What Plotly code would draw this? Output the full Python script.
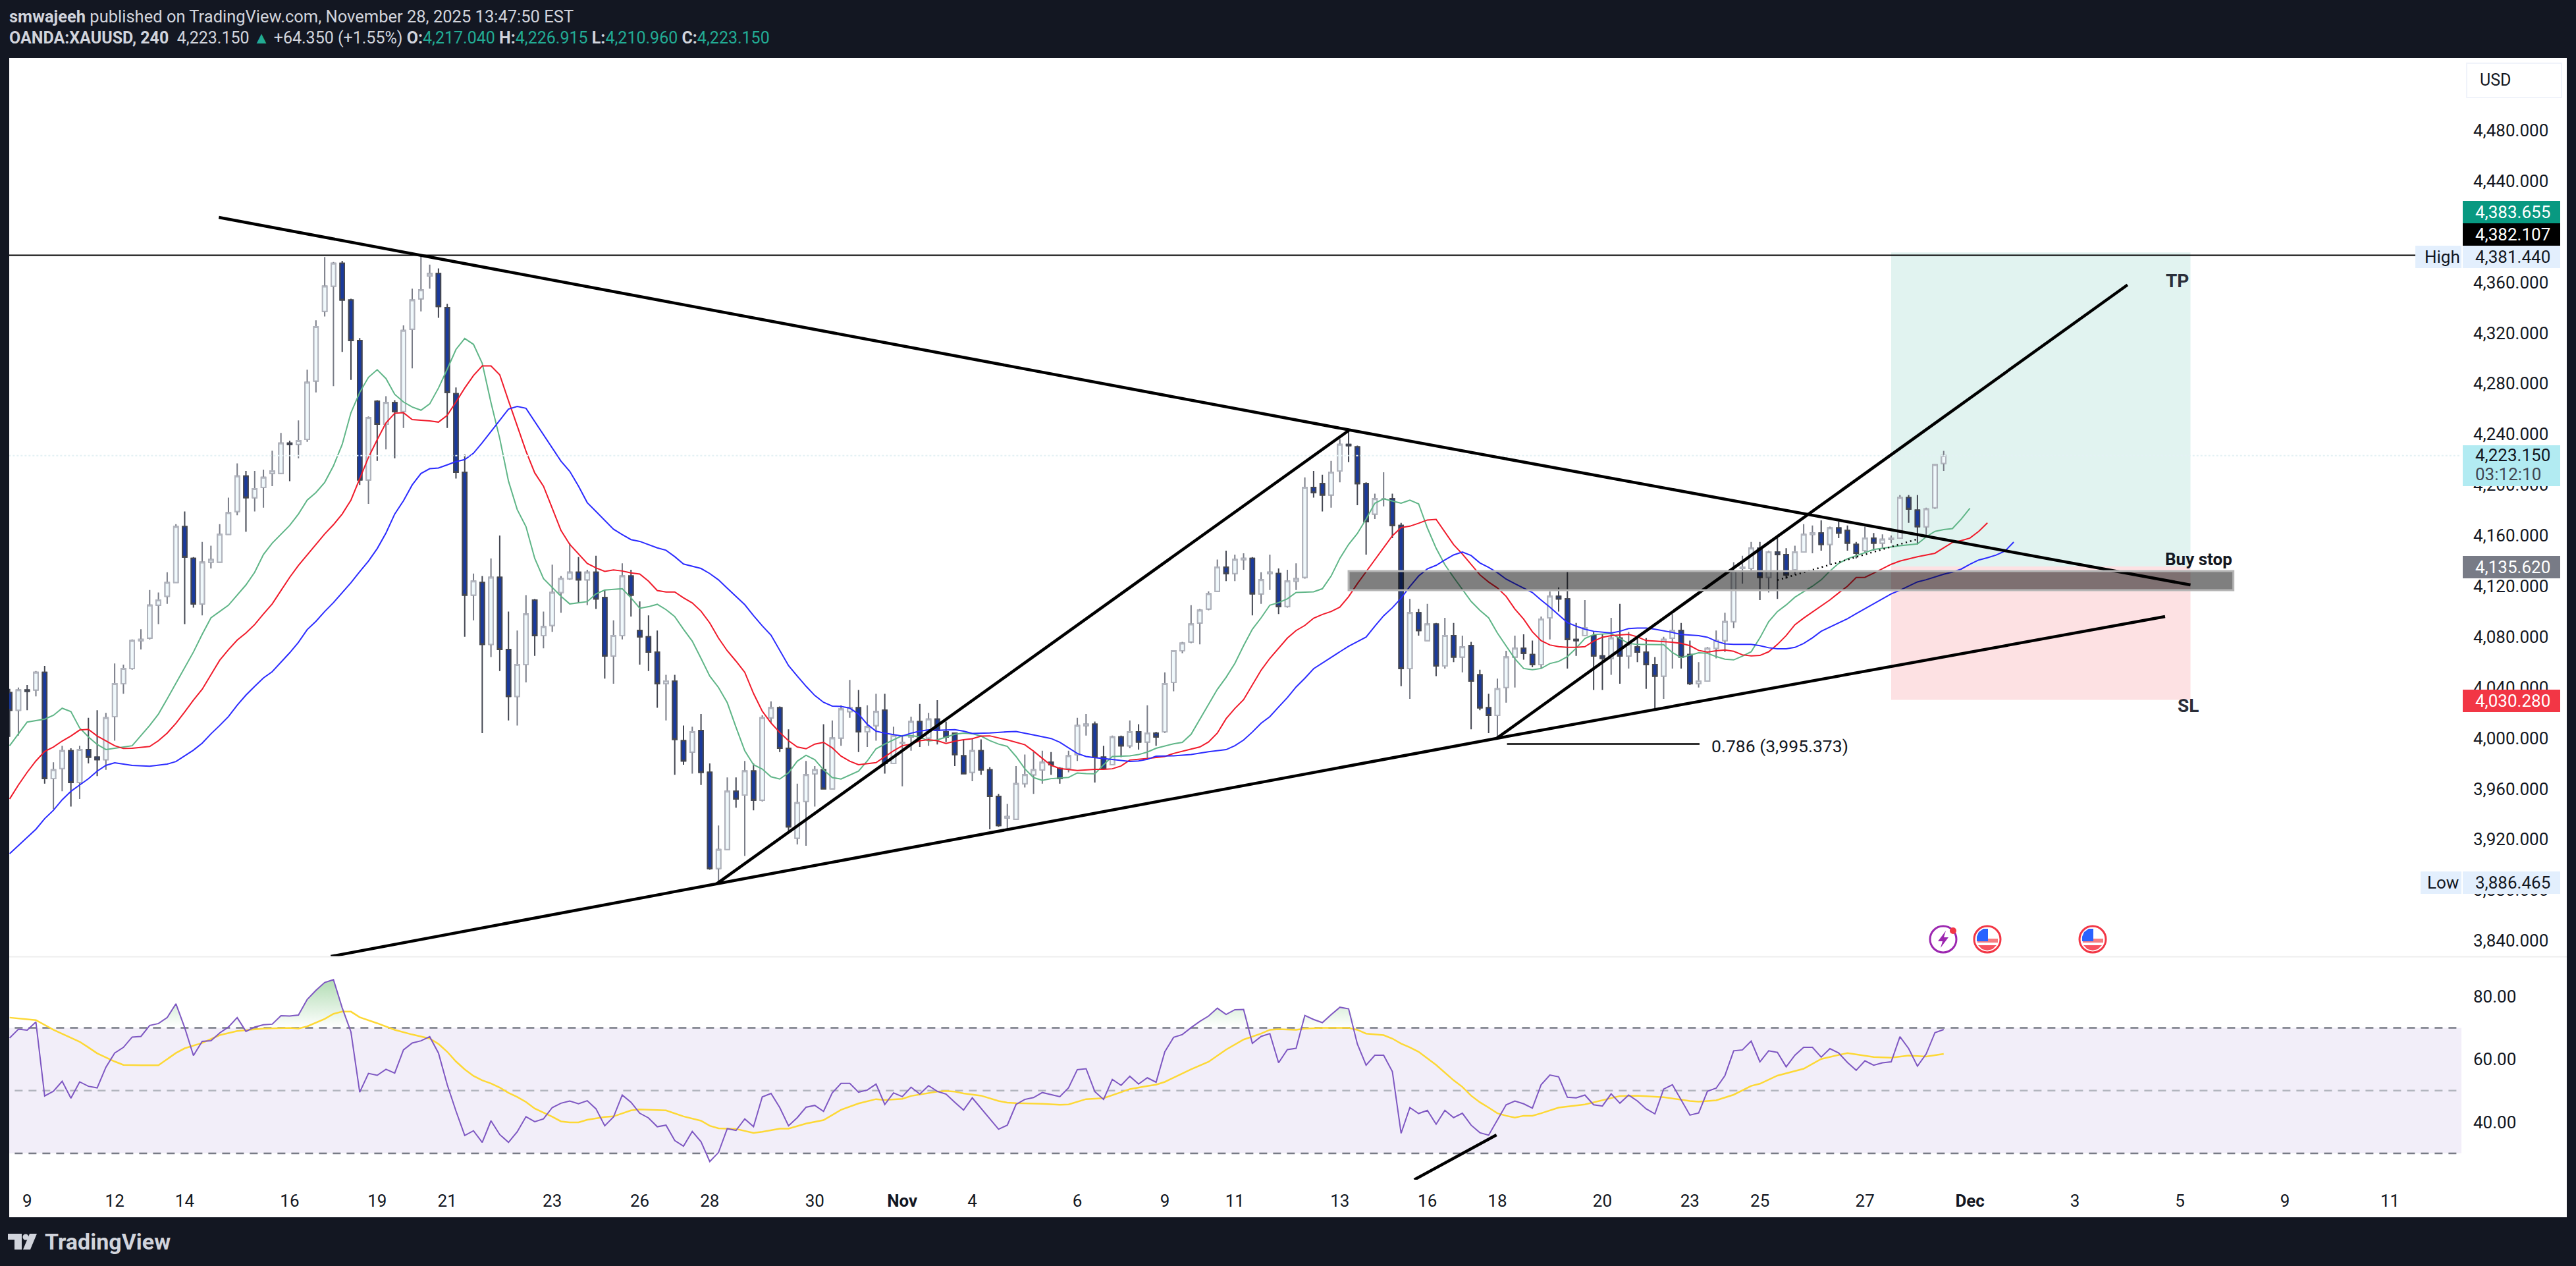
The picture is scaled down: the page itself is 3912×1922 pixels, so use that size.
import plotly.graph_objects as go

W = 3912
H = 1922

opens = [4036,4022,4038,4038,4052,3968,3976,3990,3965,3991,
3985,3983,4017,4043,4055,4077,4079,4105,4112,4123,
4167,4142,4106,4139,4139,4161,4179,4207,4190,4198,
4209,4209,4233,4232,4236,4282,4337,4357,4375,4346,
4314,4204,4266,4248,4265,4258,4323,4347,4365,4367,
4340,4272,4210,4113,4123,4074,4127,4070,4033,4058,
4109,4081,4089,4115,4126,4131,4125,4131,4111,4065,
4081,4128,4085,4080,4068,4043,4045,3998,3989,4006,
3973,3897,3912,3958,3955,3974,3951,4016,4024,3992,
3921,3950,3972,3975,3960,4000,4021,4024,4005,4010,
4022,3980,3996,4001,4013,4000,4015,4005,4004,3986,
3973,3990,3975,3954,3937,3936,3964,3971,3975,3981,
3976,3976,3987,4010,4011,3985,3979,4001,3994,4005,
3997,4004,4005,4044,4069,4076,4091,4102,4116,4135,
4130,4141,4142,4114,4130,4130,4104,4124,4127,4198,
4201,4192,4211,4232,4230,4201,4177,4189,4189,4168,
4055,4099,4077,4090,4057,4081,4064,4073,4050,4024,
4018,4040,4064,4071,4066,4058,4095,4112,4110,4078,
4081,4081,4065,4063,4079,4065,4072,4068,4058,4049,
4079,4085,4066,4043,4045,4071,4077,4092,4134,4134,
4150,4127,4147,4145,4133,4147,4161,4162,4153,4166,
4164,4153,4148,4158,4154,4157,4158,4190,4180,4167,4182,4217.04]

highs = [4039,4040,4042,4053,4057,3981,3994,3992,3994,4016,
4022,4020,4059,4058,4078,4086,4117,4115,4131,4169,
4179,4143,4155,4152,4169,4190,4217,4211,4211,4212,
4227,4241,4235,4251,4291,4330,4380,4376,4377,4347,
4316,4254,4267,4270,4267,4326,4355,4381.44,4374,4371,
4343,4277,4224,4130,4128,4142,4160,4100,4085,4113,
4110,4100,4137,4128,4154,4143,4133,4144,4117,4093,
4138,4133,4108,4097,4085,4050,4050,4010,4009,4019,
3980,3931,3969,3969,3982,3980,4018,4029,4025,4007,
3964,3982,3978,4011,4014,4026,4046,4038,4026,4035,
4035,4009,4002,4017,4027,4020,4030,4013,4004,3999,
4000,3999,3977,3956,3948,3978,3987,3989,3990,3989,
3977,3990,4016,4019,4013,3994,4002,4002,4014,4011,
4026,4005,4052,4069,4076,4105,4102,4116,4141,4148,
4145,4146,4143,4131,4145,4134,4133,4138,4206,4211,
4208,4219,4236,4243,4231,4202,4193,4210,4193,4170,
4110,4102,4106,4091,4095,4091,4081,4076,4054,4035,
4047,4069,4081,4082,4077,4096,4116,4119,4132,4091,
4109,4084,4082,4095,4106,4084,4079,4079,4064,4080,
4098,4091,4077,4060,4072,4085,4099,4139,4144,4155,
4155,4148,4158,4150,4152,4169,4168,4172,4167,4171,
4168,4155,4167,4162,4161,4160,4192,4192,4192,4182,4216,4226.915]

lows = [4001,4002,4022,4033,3964,3944,3958,3946,3952,3980,
3970,3975,3998,4035,4054,4070,4078,4090,4106,4123,
4090,4103,4097,4134,4139,4161,4176,4163,4179,4182,
4199,4209,4203,4221,4234,4273,4333,4278,4305,4283,
4200,4185,4219,4228,4221,4245,4292,4337,4355,4332,
4245,4205,4080,4093,4004,4064,4053,4014,4010,4044,
4065,4071,4084,4099,4125,4107,4105,4102,4047,4043,
4078,4096,4058,4053,4024,4014,3971,3979,3972,3963,
3896,3886.465,3912,3945,3907,3943,3950,4012,3989,3927,
3916,3915,3946,3960,3960,3994,4016,3989,3993,3998,
3972,3980,3962,3990,3993,3994,3995,3997,3978,3972,
3966,3971,3928,3930,3928,3936,3961,3956,3964,3971,
3964,3973,3982,4002,3965,3976,3979,3985,3992,3991,
3984,3994,4004,4037,4067,4075,4074,4101,4116,4124,
4124,4133,4097,4106,4117,4098,4103,4117,4126,4190,
4179,4182,4202,4218,4184,4145,4173,4183,4158,4041,
4031,4081,4077,4049,4055,4060,4052,4007,4022,4004,
3999.5,4028,4040,4062,4056,4055,4078,4100,4055,4065,
4081,4038,4038,4050,4043,4055,4060,4039,4022,4031,
4055,4055,4042,4040,4045,4063,4068,4087,4122,4132,
4109,4115,4110,4126,4129,4147,4146,4148,4137,4158,
4148,4142,4147,4148,4150,4154,4158,4170,4153,4160,4181,4210.96]

closes = [4022,4038,4037,4052,3968,3975,3990,3965,3991,3985,
3983,4016,4043,4055,4077,4078,4105,4109,4123,4167,
4143,4106,4139,4141,4161,4178,4207,4190,4197,4206,
4211,4233,4232,4235,4281,4325,4357,4375,4346,4314,
4204,4253,4248,4265,4258,4322,4346,4354,4367,4341,
4273,4210,4113,4124,4074,4127,4070,4033,4058,4098,
4081,4088,4115,4126,4131,4125,4131,4110,4065,4081,
4128,4113,4080,4068,4043,4045,3999,3982,4005,3973,
3897,3912,3958,3952,3974,3951,4016,4024,3992,3930,
3949,3971,3975,3960,4000,4023,4024,4005,4009,4021,
3980,4002,3996.5,4013,4000,4015,4006,4001,3987,3972,
3990,3975,3954,3931,3938,3964,3971,3975,3981,3979,
3968,3986,4010,4011,3985,3976,4001,3994,4005,3997,
4004,4001,4043,4069,4075,4090,4101,4114,4135,4130,
4141,4142,4114,4125,4131,4104,4124,4126,4198,4194,
4192,4210,4232,4231,4201,4171,4189,4189,4168,4055,
4099,4085,4090,4057,4081,4064,4072,4045,4024,4018,
4039,4064,4071,4067,4058,4094,4112,4110,4078,4077,
4087,4065,4063,4079,4065,4074,4068,4058,4049,4078,
4085,4064,4043,4045,4071,4077,4092,4132,4135,4150,
4127,4147,4145,4129,4147,4161,4162,4153,4166,4162,
4154,4146,4158,4154,4157,4158,4190,4181,4167,4181,4216,4223.15]

lips_x = [0,2,4,5,6,7,8,9,10,11,12,14,16,17,18,20,21,22,23,24,25,27,28,29,30,32,33,34,35,36,37,38,39,40,41,42,43,44,45,46,47,48,49,50,51,52,53,54,55,56,57,58,59,60,61,63,64,66,67,68,70,71,72,73,74,75,76,77,78,79,80,81,82,83,84,85,86,87,88,89,90,91,92,93,94,95,96,97,98,99,100,101,102,103,104,105,106,108,109,110,111,112,113,114,115,116,117,118,119,121,122,123,124,125,126,128,129,130,131,133,134,135,136,137,138,139,140,141,142,143,144,145,146,147,149,150,151,152,153,154,155,156,157,159,160,161,162,163,164,165,166,167,168,169,170,171,172,173,174,175,176,177,178,179,180,181,183,185,186,189,190,191,192,193,194,195,196,197,198,199,200,201,202,203,204,205,206,207,208,209,210,213,215,216,218,219,220,221,222,223,224]
lips_y = [3994,4012.7,4015,4018,4023.6,4021,4008,4001,3995,3991,3992,3994,4010,4019,4031,4056,4068,4082,4095,4100,4105,4121,4131,4145,4154,4168,4177,4188,4194,4202,4215,4232,4257,4273,4285,4291,4284,4271.5,4265.5,4261.5,4259,4264,4276.5,4291.4,4307,4315.6,4311,4296,4265,4236.7,4203,4180.5,4167,4142,4126,4112,4106,4107.8,4114,4117,4118,4110.8,4102.6,4103.8,4105.7,4101.5,4096,4086,4076.6,4063,4049,4040,4028,4008.6,3990,3979,3975.6,3969.5,3967.7,3972.6,3981.8,3986.5,3983,3975,3968.8,3967.7,3971,3974,3982,3991.6,3995.3,3998.8,4002,4002,4001,3997.7,3998.6,4003,4004,4003.5,4001.6,3998,3995.3,3993.5,3985.5,3975.8,3968.8,3966.7,3968,3969,3972.5,3972,3971.8,3979,3985.5,3986,3987,3989,3992,3995.5,3996.7,4003,4015,4027,4038.5,4048,4059,4073,4086,4095,4105,4107,4110,4115,4115.6,4118,4128,4142,4153,4161.6,4173,4185.5,4189,4185.5,4188,4185,4166,4150,4137,4127,4117.5,4108,4101,4095,4083,4073,4062.7,4055,4054,4055,4058.9,4060.6,4064.4,4071,4078.7,4081.8,4082.6,4074.8,4074,4073.8,4067.6,4063.6,4065.6,4067.4,4067,4064.4,4062.4,4061.8,4064.8,4068.2,4079.2,4092,4100,4105.2,4111.3,4115.6,4120,4125,4132,4138,4141.6,4149,4151,4152,4153.4,4159,4163.3,4164.7,4165.5,4173,4181.5]

teeth_x = list(range(0, 15)) + [16,17,18,19,20,21,22,23,24,25,26,27,28,29,30,31,32,33,34,35,36,37,38,39,40,41,42,43,44,45,46,47,48,49,50,51,52,53,54,55,56,57,58,59,60,61,62,63,64,65,66,67,68,69,70,71,72,73,74,75,76,77,78,79,80,81,82,83,84,85,86,87,88,89,90,91,92,93,94,95,96,97,99,100,101,102,103,104,105,106,107,108,109,110,111,112,114,116,117,118,119,120,122,124,125,126,127,128,130,132,133,135,136,137,138,139,140,141,142,143,144,145,146,147,148,149,150,151,152,153,154,155,156,157,158,159,160,161,162,163,164,165,166,167,168,169,170,171,172,173,174,175,176,177,178,179,180,181,182,183,184,185,186,187,188,190,191,192,193,194,195,196,197,198,199,200,201,202,203,204,205,206,207,208,209,210,211,212,213,215,216,218,220,221,222,223,224,225,226]
teeth_y = [3952,3963,3973,3982,3989.5,3993,3997.7,4001.7,4006.4,4007,4001.7,3998,3994,3991.8,3992,3993.4,3998,4004,4011.7,4020.7,4030,4038.6,4050,4061.5,4069.8,4077.4,4083,4089.7,4098,4106,4116.5,4127,4136.4,4144.7,4152.7,4161.3,4168.6,4177,4188,4205,4221.7,4235.7,4249,4256.6,4257,4251.6,4251,4250.6,4249.6,4255,4265.5,4276.5,4286.4,4294,4294,4287,4266.5,4246.6,4226.7,4209.5,4199,4181.6,4164,4153,4145.6,4138,4134.5,4131.7,4132.8,4132,4130.5,4129.6,4124,4116.6,4115.4,4115.4,4110.8,4106.8,4100.3,4091,4079,4069,4060.8,4052,4035.3,4021.3,4012,4004.4,3998,3993,3991.6,3995.3,3996.7,3992.3,3985.8,3981.8,3979,3980.7,3985.3,3990,3994,3995.3,3998,3998.8,3998,3995.8,3997.6,3998.8,3999.5,4001.6,4001.8,3998.6,3994.8,3989.7,3984,3978.6,3976,3974.4,3975.3,3975.3,3975.8,3978,3982.7,3983.9,3985.5,3987.9,3991.3,3993,3997,4004,4015.3,4023.4,4030.4,4042,4053.6,4063,4071,4079,4085,4089,4094.7,4097.7,4100,4103.5,4111.7,4122,4131.4,4140.7,4150,4159.8,4166.3,4167.4,4169.7,4172.3,4172.8,4162.8,4152.8,4145.4,4137.2,4129,4123.3,4118.6,4112,4102,4094,4084,4077,4073.6,4072.2,4071.7,4071.7,4072.2,4076.6,4079.7,4081,4081.4,4082,4080,4077,4076.6,4075.7,4074.8,4073,4069.3,4067.9,4069,4069.6,4068.6,4065.8,4065,4065.3,4068.2,4074,4081,4089.6,4094.8,4099.5,4104.3,4109.2,4114.7,4120,4126.9,4127,4130.3,4137.3,4139.9,4143.3,4146,4150.3,4154.6,4156,4158,4163.3,4170]

jaw_x = [0,2,3,4,5,6,7,8,9,10,11,12,14,16,18,19,20,21,22,23,24,25,26,27,28,29,30,31,32,33,34,35,36,37,38,39,40,41,42,43,44,45,46,47,48,49,50,51,52,53,54,55,56,57,58,59,63,64,65,66,67,68,69,70,71,72,73,74,75,76,77,78,79,80,81,82,83,84,85,86,87,88,89,90,91,92,93,94,95,96,97,98,99,100,101,102,103,104,105,106,108,109,110,112,114,115,117,119,120,121,122,123,124,126,128,129,130,131,133,135,136,137,139,140,141,142,143,144,145,146,147,148,149,150,151,152,153,154,155,156,157,158,159,160,161,162,163,164,165,166,167,168,169,170,171,172,174,175,176,177,178,179,180,181,183,184,185,186,187,188,190,191,193,194,195,196,197,199,200,201,202,203,204,205,206,207,208,209,210,211,212,213,214,215,216,217,218,219,220,221,222,223,224,225,226,227,228,229]
jaw_y = [3908.8,3921.4,3928,3936.4,3943,3951.3,3958,3963,3967.9,3973.9,3978.5,3980.5,3978.5,3977.8,3979.5,3981.5,3986,3990.5,3996,4003.4,4010,4017,4026,4034,4040.9,4047.5,4052.5,4059.8,4067.4,4075.7,4085.7,4092.3,4100,4107,4114.9,4122.8,4131.5,4139.8,4149.7,4162,4177,4187.5,4200,4209,4212.8,4213.4,4215.8,4218.4,4220,4225,4233.3,4242,4251,4259.9,4262,4260.5,4218.8,4210.7,4199,4186,4179,4172,4165,4160.7,4156.8,4155.4,4153,4150.3,4148.4,4143.3,4137.5,4135.6,4134,4130,4125,4118.4,4111.9,4105.4,4096.8,4088.7,4081.3,4069.4,4057.3,4049,4041,4033.7,4028.3,4025.3,4025,4023.7,4019,4010.9,4005.5,4003.9,4002.8,4001.6,4003.9,4005.5,4006.5,4006.2,4006.7,4005.5,4003.7,4004.1,4005,4005.3,4002.5,3999.7,3996.7,3992.5,3987.9,3985.5,3984.6,3983.2,3981.6,3982,3983.2,3985.8,3986,3987,3988.3,3989.3,3990.9,3994,3998.5,4004.8,4011.8,4017,4024.6,4032,4040.4,4047.3,4054.8,4059.4,4063.6,4068.2,4072.6,4076.1,4079.8,4088.4,4096.6,4103,4110.5,4119.8,4128,4133.7,4136.5,4140.7,4144.7,4147,4144.2,4138.4,4134.9,4130.7,4125.6,4122,4115,4109,4103.5,4097.4,4091.3,4088.4,4086,4084.4,4083,4084.4,4086.5,4087,4087,4086,4083.5,4081.8,4081,4079.7,4076.6,4074.5,4074,4074,4073,4071.4,4070.5,4070.5,4071.7,4074.8,4079.2,4084.4,4087.8,4090.8,4094.3,4098.3,4102.2,4106,4109.9,4113.9,4116.8,4120.3,4123.4,4125.1,4127.4,4129.5,4131.2,4133.5,4137.3,4140.7,4142.5,4144.6,4147.7,4154.8]

rsi = [66.8,69.6,69.3,71.9,48.3,49.8,53,47.6,52.8,51.4,
50.9,57.5,62,63.8,67.1,67.3,70.8,71.4,73.3,77.7,
70.1,61.2,65.7,65.9,68.4,70.3,73.3,68.9,70.3,71,
71.2,73.9,73.8,74.1,79.1,82,84.5,85.4,76.4,68.7,
49.5,55.5,54.9,56.8,55.6,63,65.2,65.9,67.2,62,
51.9,43.5,35.7,37.2,33.5,40.4,36,33.5,36.9,41.7,
40.1,41,44.6,46,46.7,45.8,46.8,44.2,38.8,41.6,
48.6,46.3,42.8,41.3,38.5,39,34.1,32.3,37,33.7,
27.4,30.3,37.9,37.3,41,38.5,48,49.1,44.6,38.8,
41.4,44.7,45.3,43.4,49.3,52.3,52.3,49.5,50.2,52.1,
45.6,49.3,48.1,51.1,48.9,51.6,49.8,48.9,46.3,43.8,
47.7,44.4,41,37.7,39,45.6,47.2,47.8,49.4,48.8,
48.1,50.9,56.7,57,49.7,47.2,53.6,51.7,54.6,52.1,
54.1,52.7,62.4,67,67.9,70.1,72.1,73.8,76.3,74.3,
75.8,75.9,65.1,67.3,68.2,58.9,63.1,63.5,74,72.7,
71.7,74.2,76.6,76.1,64.9,58.1,61.3,61.3,56.1,36.4,
44.6,42.7,43.7,39.3,43.7,41.4,42.8,39,36.6,35.8,
40.7,45.5,46.7,45.8,44.4,51.9,55,54.4,47.9,47.7,
48.6,45.5,45.1,49,46,48.6,46.7,44.2,42.6,50.5,
51.9,47,42.2,42.9,49.8,50.8,54.8,62.7,63,65.8,
59.2,62.7,62.2,57.6,61.3,63.8,63.8,60.7,63.4,62,
59,56.5,59.5,58.1,58.9,59.2,67.2,63.4,57.8,61.7,68.5,69.5]

rsi_ma_x = [0,3,5,7,8,9,10,12,13,15,17,19,20,22,24,26,29,32,33,34,36,37,38,39,40,42,44,46,48,49,50,51,52,53,54,55,56,57,58,59,60,62,63,64,65,66,68,69,70,71,72,75,77,79,80,81,83,85,86,88,89,91,93,95,97,99,100,102,103,105,106,107,108,109,111,113,114,115,118,120,121,123,125,127,128,130,131,132,135,137,139,141,143,144,145,147,148,150,153,154,155,157,158,159,160,161,163,165,166,167,168,169,170,171,172,173,174,175,177,180,182,184,186,189,191,192,193,195,197,199,200,202,205,207,210,213,215,217,219,221]
rsi_ma_y = [73.3,72.5,69.4,66.8,65.6,63.8,61.9,59.3,58.2,58.1,58.1,62,63.5,65.2,67.7,69,69.8,70,69.8,70.5,72.9,74.5,75.2,75.2,73.4,71.5,69.4,67.9,66.6,64.9,62.4,59.3,56.8,54.7,53.3,52.3,51,49.3,48,46.4,44.3,41.7,40.2,39.9,39.9,40.7,41.6,41.8,42.8,43.7,44,43.7,41.8,40.4,38.8,38,37.8,36.5,36.9,37.9,37.9,39.5,40.6,43.9,45.9,47.3,47,47.4,48.3,49.3,49.7,49.9,49.7,49.1,48.4,46.7,46.2,46,45.8,45.5,45.6,47.3,47.6,49.5,50.5,51.5,51.9,52.8,56.8,59.2,63.1,66.3,68.2,69.4,69.6,69.4,69.8,70,70,69.4,68.2,67.7,66.6,65,63.8,62.4,58.2,53.3,51.2,48.4,46.3,44.6,42.8,42,41.4,42,42,42.8,44.6,45.6,46.9,48.3,48.4,47.9,47.1,46.7,46.5,46.9,48.7,51.5,52.2,54.8,57,60.1,62,60.7,60.5,61.2,60.9,61.7]

resistance_x = [23.9, 153.1, 249.2]
resistance_y = [4411.3, 4243.4, 4121]
support_x = [36.7, 80.8, 169.9, 246.3]
support_y = [3827.6, 3885, 3999.8, 4096]
rise1_x = [80.8, 153.1]
rise1_y = [3885, 4243.4]
rise2_x = [169.9, 242]
rise2_y = [3999.8, 4358]
fib_x = [171.1, 193.1]
fib_y = [3995.373, 3995.373]
dotted_x = [202, 218.1]
dotted_y = [4124.8, 4157.4]
rsi_line_x = [160.5, 169.9]
rsi_line_y = [21.6, 35.9]

high_price = 4381.44
last_price = 4223.15
tp_price = 4383.655
entry_price = 4135.62
sl_price = 4030.28
position_x = [215, 249.2]
zone_x = [153, 254.1]
zone_y = [4116.8, 4132]

price_ticks = [3840,3880,3920,3960,4000,4040,4080,4120,4160,4200,4240,4280,4320,4360,4400,4440,4480]
rsi_ticks = [40, 60, 80]
date_ticks = [2,12,20,32,42,50,62,72,80,92,102,110,122,132,140,152,162,170,182,192,200,212,224,236,248,260,272]
date_labels = ["9","12","14","16","19","21","23","26","28","30","<b>Nov</b>","4","6","9","11","13","16","18","20","23","25","27","<b>Dec</b>","3","5","9","11"]

DARK = "#131722"
TEAL = "#22ab94"
FONT = "Roboto"
BLACK = "#000000"


def fx(x):
    return x / W


def fy(y):
    return 1 - y / H


def paper_rect(x0, y0, x1, y1, fill, line=None, width=0, layer="above"):
    return dict(type="rect", xref="paper", yref="paper", x0=fx(x0), x1=fx(x1), y0=fy(y0), y1=fy(y1),
                fillcolor=fill, line=dict(color=line or fill, width=width), layer=layer)


def paper_circle(cx, cy, r, fill, line=None, width=0):
    return dict(type="circle", xref="paper", yref="paper", x0=fx(cx - r), x1=fx(cx + r), y0=fy(cy - r), y1=fy(cy + r),
                fillcolor=fill, line=dict(color=line or fill, width=width), layer="above")


def paper_poly(points, fill):
    path = "M " + " L ".join(f"{fx(x)} {fy(y)}" for x, y in points) + " Z"
    return dict(type="path", xref="paper", yref="paper", path=path, fillcolor=fill,
                line=dict(color=fill, width=0), layer="above")


def label(x, y, text, color="#131722", size=26, anchor="left"):
    return dict(xref="paper", yref="paper", x=fx(x), y=fy(y), text=text, showarrow=False, xanchor=anchor,
                yanchor="middle", align="left", font=dict(family=FONT, size=size, color=color))


def flag(cx, cy):
    return [
        paper_circle(cx, cy, 20, "#ffffff", "#f23645", 3),
        paper_poly([(cx - 15, cy - 1), (cx + 15, cy - 1), (cx + 16, cy - 1), (cx + 16, cy + 5), (cx - 15, cy + 5)], "#f77c80"),
        paper_poly([(cx - 14, cy + 9), (cx + 14, cy + 9), (cx + 8, cy + 15), (cx, cy + 17), (cx - 8, cy + 15)], "#f7525f"),
        paper_poly([(cx - 13, cy - 11), (cx - 6, cy - 16), (cx + 1, cy - 16), (cx + 1, cy + 3), (cx - 16, cy + 3), (cx - 16, cy - 4)], "#2962ff"),
    ]


idx = list(range(len(closes)))
body_high = [max(o, c) for o, c in zip(opens, closes)]
body_low = [min(o, c) for o, c in zip(opens, closes)]

fig = go.Figure()

# wicks first, then the bodies on top so the border can be lighter than the wick
fig.add_trace(go.Candlestick(
    x=idx, open=opens, high=highs, low=lows, close=closes, xaxis="x", yaxis="y", whiskerwidth=0,
    increasing=dict(line=dict(color="#787b86", width=2), fillcolor="#f0f9fc"),
    decreasing=dict(line=dict(color="#434651", width=2), fillcolor="#1a3a9c"),
))
fig.add_trace(go.Candlestick(
    x=idx, open=opens, high=body_high, low=body_low, close=closes, xaxis="x", yaxis="y", whiskerwidth=0,
    increasing=dict(line=dict(color="#b2b5be", width=2), fillcolor="#f0f9fc"),
    decreasing=dict(line=dict(color="#434651", width=2), fillcolor="#1a3a9c"),
))

for xs, ys, color in [(lips_x, lips_y, "#5fb587"), (teeth_x, teeth_y, "#f01a2a"), (jaw_x, jaw_y, "#2b2bff")]:
    fig.add_trace(go.Scatter(x=xs, y=ys, mode="lines", line=dict(color=color, width=2), xaxis="x", yaxis="y"))

fig.add_trace(go.Scatter(x=[-1, idx[-1]], y=[last_price, last_price], mode="lines",
                         line=dict(color="#e4f1f4", width=2, dash="dot"), xaxis="x", yaxis="y"))
fig.add_trace(go.Scatter(x=[idx[-1], 280.2], y=[last_price, last_price], mode="lines",
                         line=dict(color="#e4f1f4", width=2, dash="dot"), xaxis="x", yaxis="y"))
fig.add_trace(go.Scatter(x=[-1, 274.9], y=[high_price, high_price], mode="lines",
                         line=dict(color=BLACK, width=2), xaxis="x", yaxis="y"))

for xs, ys in [(resistance_x, resistance_y), (support_x, support_y), (rise1_x, rise1_y), (rise2_x, rise2_y)]:
    fig.add_trace(go.Scatter(x=xs, y=ys, mode="lines", line=dict(color=BLACK, width=4.5), xaxis="x", yaxis="y"))
fig.add_trace(go.Scatter(x=fib_x, y=fib_y, mode="lines", line=dict(color=BLACK, width=2.5), xaxis="x", yaxis="y"))
fig.add_trace(go.Scatter(x=dotted_x, y=dotted_y, mode="lines", line=dict(color=BLACK, width=2.5, dash="2px,5px"),
                         xaxis="x", yaxis="y"))

# rsi pane
fig.add_trace(go.Scatter(x=idx, y=[70] * len(idx), mode="lines", line=dict(width=0), xaxis="x", yaxis="y2"))
fig.add_trace(go.Scatter(
    x=idx, y=[max(r, 70) for r in rsi], mode="lines", line=dict(width=0), fill="tonexty", xaxis="x", yaxis="y2",
    fillgradient=dict(type="vertical", start=70, stop=86,
                      colorscale=[[0, "rgba(76,175,80,0)"], [1, "rgba(76,175,80,0.45)"]]),
))
for level, color in [(70, "#787b86"), (50, "#b2b5be"), (30, "#787b86")]:
    fig.add_trace(go.Scatter(x=[-1, 280.2], y=[level, level], mode="lines",
                             line=dict(color=color, width=2.5, dash="12px,9px"), xaxis="x", yaxis="y2"))
fig.add_trace(go.Scatter(x=rsi_ma_x, y=rsi_ma_y, mode="lines", line=dict(color="#fdd835", width=2.5), xaxis="x", yaxis="y2"))
fig.add_trace(go.Scatter(x=idx, y=rsi, mode="lines", line=dict(color="#7e57c2", width=2), xaxis="x", yaxis="y2"))
fig.add_trace(go.Scatter(x=rsi_line_x, y=rsi_line_y, mode="lines", line=dict(color=BLACK, width=4.5), xaxis="x", yaxis="y2"))

shapes = [
    paper_rect(14, 88, 3898, 1848, "#ffffff", layer="below"),
    dict(type="rect", xref="x", yref="y", x0=position_x[0], x1=position_x[1], y0=entry_price, y1=tp_price,
         fillcolor="rgba(8,153,129,0.12)", line=dict(width=0), layer="below"),
    dict(type="rect", xref="x", yref="y", x0=position_x[0], x1=position_x[1], y0=sl_price, y1=entry_price,
         fillcolor="rgba(242,54,69,0.15)", line=dict(width=0), layer="below"),
    dict(type="rect", xref="x", yref="y2", x0=-1, x1=280.2, y0=30, y1=70,
         fillcolor="rgba(126,87,194,0.1)", line=dict(width=0), layer="below"),
    dict(type="rect", xref="x", yref="y", x0=zone_x[0], x1=zone_x[1], y0=zone_y[0], y1=zone_y[1],
         fillcolor="rgba(0,0,0,0.5)", line=dict(color="#b5b5b5", width=3), layer="above"),
    paper_rect(14, 1451.5, 3898, 1453.5, "#eeeeee"),
    # price axis boxes
    paper_rect(3746, 96, 3890, 148, "#ffffff", "#f0f3fa", 2),
    paper_rect(3740, 305, 3888, 339, "#089981"),
    paper_rect(3740, 339, 3888, 373, "#000000"),
    paper_rect(3668, 373, 3738, 407, "#e3effd"),
    paper_rect(3740, 373, 3888, 407, "#e3effd"),
    paper_rect(3740, 676, 3888, 738, "#b2ebf2"),
    paper_rect(3740, 844, 3888, 878, "#787b86"),
    paper_rect(3740, 1047, 3888, 1081, "#f23645"),
    paper_rect(3676, 1323, 3738, 1357, "#e3effd"),
    paper_rect(3740, 1323, 3888, 1357, "#e3effd"),
    # tradingview logo
    paper_poly([(12, 1873), (33, 1873), (33, 1897), (22, 1897), (22, 1882), (12, 1882)], "#d1d4dc"),
    paper_circle(39, 1878, 4.5, "#d1d4dc"),
    paper_poly([(45, 1873), (56, 1873), (46, 1897), (35, 1897)], "#d1d4dc"),
    # news icon
    paper_circle(2951, 1426, 20, "#ffffff", "#9c27b0", 3),
    paper_poly([(2955, 1413), (2943, 1429), (2950, 1429), (2947, 1439), (2959, 1423), (2952, 1423)], "#9c27b0"),
    paper_circle(2966, 1413, 5, "#f23645"),
]
shapes += flag(3018, 1426) + flag(3178, 1426)

header1 = "<b>smwajeeh</b> published on TradingView.com, November 28, 2025 13:47:50 EST"
header2 = ("<b>OANDA:XAUUSD, 240</b>  4,223.150 "
           f"<span style='color:{TEAL}'>▲</span> +64.350 (+1.55%) "
           f"<b>O:</b><span style='color:{TEAL}'>4,217.040</span> "
           f"<b>H:</b><span style='color:{TEAL}'>4,226.915</span> "
           f"<b>L:</b><span style='color:{TEAL}'>4,210.960</span> "
           f"<b>C:</b><span style='color:{TEAL}'>4,223.150</span>")

annotations = [
    label(12, 25, header1, "#d1d4dc", 25.5),
    label(12, 57, header2, "#d1d4dc", 25),
    label(66, 1885, "<b>TradingView</b>", "#d1d4dc", 34),
    label(3764, 121, "USD", "#131722", 25),
    label(3757, 322, "4,383.655", "#ffffff"),
    label(3757, 356, "4,382.107", "#ffffff"),
    label(3680, 390, "High", "#131722"),
    label(3757, 390, "4,381.440", "#131722"),
    label(3757, 691, "4,223.150", "#131722"),
    label(3757, 720, "03:12:10", "#434651"),
    label(3757, 861, "4,135.620", "#ffffff"),
    label(3757, 1064, "4,030.280", "#ffffff"),
    label(3684, 1340, "Low", "#131722"),
    label(3757, 1340, "3,886.465", "#131722"),
    label(3326, 426, "<b>TP</b>", "#2a2e39", 28, "right"),
    label(3286, 849, "<b>Buy stop</b>", "#131722", 26),
    label(3305, 1071, "<b>SL</b>", "#2a2e39", 28),
    label(2597, 1132, "0.786 (3,995.373)", "#131722", 26.5),
]

fig.update_layout(
    width=W, height=H, margin=dict(l=0, r=0, t=0, b=0), autosize=False,
    paper_bgcolor=DARK, plot_bgcolor="rgba(0,0,0,0)", showlegend=False, boxgap=0.3,
    font=dict(family=FONT, size=26, color="#131722"),
    shapes=shapes, annotations=annotations, hovermode=False,
    xaxis=dict(domain=[fx(14), fx(3738)], range=[-0.05, 280.16], anchor="y2", rangeslider=dict(visible=False),
               showgrid=False, zeroline=False, showline=False, ticks="", tickmode="array",
               tickvals=date_ticks, ticktext=date_labels, ticklabelstandoff=14,
               tickfont=dict(family=FONT, size=26, color="#131722")),
    yaxis=dict(domain=[fy(1452), fy(88)], range=[3827.6, 4537.2], side="right", anchor="x",
               showgrid=False, zeroline=False, showline=False, ticks="", tickmode="array",
               tickvals=price_ticks, ticktext=[f"{p:,.3f}" for p in price_ticks], ticklabelstandoff=17,
               tickfont=dict(family=FONT, size=26, color="#131722")),
    yaxis2=dict(domain=[fy(1791), fy(1453)], range=[21.6, 92.6], side="right", anchor="x",
                showgrid=False, zeroline=False, showline=False, ticks="", tickmode="array",
                tickvals=rsi_ticks, ticktext=[f"{r:.2f}" for r in rsi_ticks], ticklabelstandoff=17,
                tickfont=dict(family=FONT, size=26, color="#131722")),
)

fig.write_html("out.html", config={"displayModeBar": False},
               post_script="document.body.style.margin='0';document.body.style.overflow='hidden';")
